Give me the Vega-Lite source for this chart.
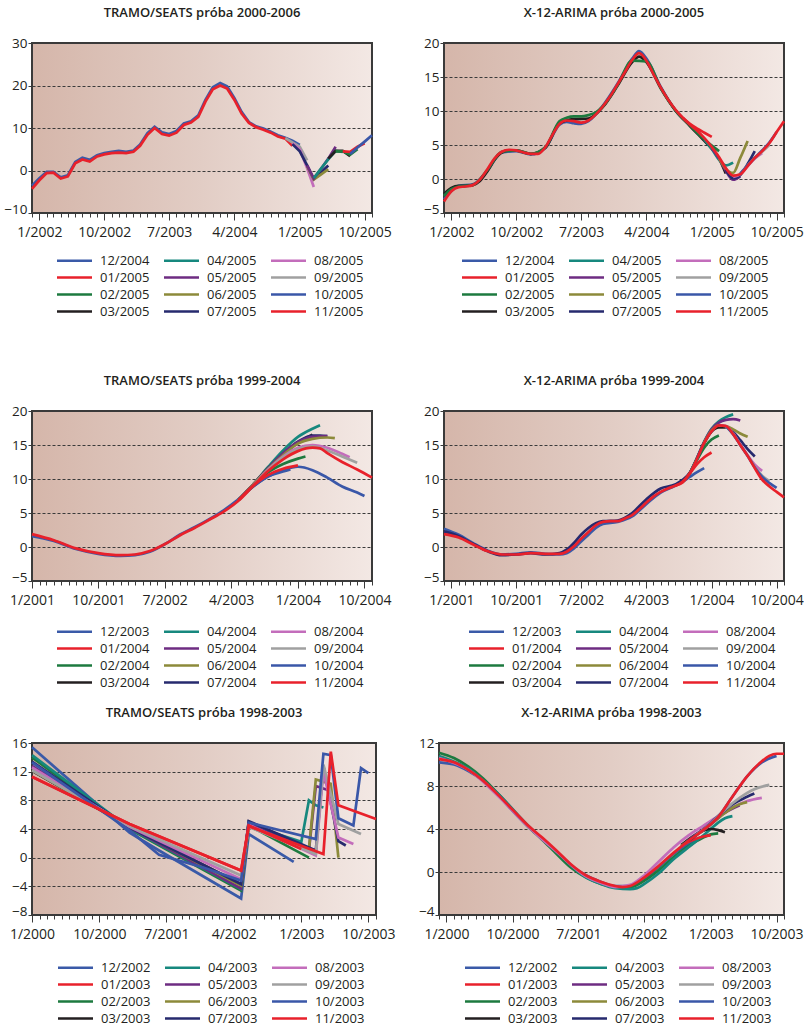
{
"$schema": "https://vega.github.io/schema/vega-lite/v6.json",
"background": "white",
"padding": {"left": 2, "top": 6, "right": 5, "bottom": 5},
"config": {
 "font": "Open Sans",
 "view": {"fill": {"gradient": "linear", "x1": 0, "y1": 0, "x2": 1, "y2": 0, "stops": [{"offset": 0, "color": "#d5b6aa"}, {"offset": 0.5, "color": "#e2cdc5"}, {"offset": 1, "color": "#f3e8e4"}]}, "stroke": "#3a3a3a", "strokeWidth": 2},
 "axis": {"domain": false, "labelFont": "Open Sans", "labelColor": "#231f20", "tickColor": "#3a3a3a", "labelOverlap": false, "labelFlush": false, "labelBound": false},
 "axisX": {"grid": false, "labelFontSize": 14, "labelPadding": 5},
 "axisY": {"grid": true, "gridDash": [3, 2], "gridColor": "#3a3a3a", "gridWidth": 1, "tickSize": 4, "labelFontSize": 13.5, "labelPadding": 1},
 "legend": {"orient": "none", "columns": 3, "symbolType": "M-2.5,0H2.5", "symbolSize": 196, "symbolStrokeWidth": 3, "labelFont": "Open Sans", "labelFontSize": 13, "labelColor": "#231f20", "rowPadding": 1, "columnPadding": 8, "labelOffset": 17, "padding": 0},
 "title": {"font": "Open Sans", "fontSize": 13, "fontWeight": 600, "color": "#231f20", "offset": 16, "anchor": "middle"},
 "line": {"strokeWidth": 2.7}
},
"datasets": {
"p1": [
{"s":"12/2004","t":"2001-12","v":-3.6},{"s":"12/2004","t":"2002-01","v":-1.8},{"s":"12/2004","t":"2002-02","v":-0.3},{"s":"12/2004","t":"2002-03","v":-0.3},{"s":"12/2004","t":"2002-04","v":-1.6},{"s":"12/2004","t":"2002-05","v":-1.1},{"s":"12/2004","t":"2002-06","v":2.0},{"s":"12/2004","t":"2002-07","v":3.0},{"s":"12/2004","t":"2002-08","v":2.5},{"s":"12/2004","t":"2002-09","v":3.6},{"s":"12/2004","t":"2002-10","v":4.1},{"s":"12/2004","t":"2002-11","v":4.4},{"s":"12/2004","t":"2002-12","v":4.6},{"s":"12/2004","t":"2003-01","v":4.4},{"s":"12/2004","t":"2003-02","v":4.7},{"s":"12/2004","t":"2003-03","v":6.1},{"s":"12/2004","t":"2003-04","v":8.8},{"s":"12/2004","t":"2003-05","v":10.3},{"s":"12/2004","t":"2003-06","v":9.0},{"s":"12/2004","t":"2003-07","v":8.6},{"s":"12/2004","t":"2003-08","v":9.3},{"s":"12/2004","t":"2003-09","v":11.1},{"s":"12/2004","t":"2003-10","v":11.6},{"s":"12/2004","t":"2003-11","v":13.0},{"s":"12/2004","t":"2003-12","v":16.6},{"s":"12/2004","t":"2004-01","v":19.6},{"s":"12/2004","t":"2004-02","v":20.6},{"s":"12/2004","t":"2004-03","v":19.8},{"s":"12/2004","t":"2004-04","v":17.0},{"s":"12/2004","t":"2004-05","v":13.8},{"s":"12/2004","t":"2004-06","v":11.4},{"s":"12/2004","t":"2004-07","v":10.4},{"s":"12/2004","t":"2004-08","v":9.9},{"s":"12/2004","t":"2004-09","v":9.1},{"s":"12/2004","t":"2004-10","v":8.3},{"s":"12/2004","t":"2004-11","v":7.7},{"s":"12/2004","t":"2004-12","v":7.0},{"s":"12/2004","t":"2005-01","v":6.0},
{"s":"01/2005","t":"2001-12","v":-4.3},{"s":"01/2005","t":"2002-01","v":-2.3},{"s":"01/2005","t":"2002-02","v":-0.6},{"s":"01/2005","t":"2002-03","v":-0.5},{"s":"01/2005","t":"2002-04","v":-1.9},{"s":"01/2005","t":"2002-05","v":-1.4},{"s":"01/2005","t":"2002-06","v":1.7},{"s":"01/2005","t":"2002-07","v":2.6},{"s":"01/2005","t":"2002-08","v":2.1},{"s":"01/2005","t":"2002-09","v":3.3},{"s":"01/2005","t":"2002-10","v":3.8},{"s":"01/2005","t":"2002-11","v":4.1},{"s":"01/2005","t":"2002-12","v":4.2},{"s":"01/2005","t":"2003-01","v":4.1},{"s":"01/2005","t":"2003-02","v":4.4},{"s":"01/2005","t":"2003-03","v":5.8},{"s":"01/2005","t":"2003-04","v":8.4},{"s":"01/2005","t":"2003-05","v":10.0},{"s":"01/2005","t":"2003-06","v":8.6},{"s":"01/2005","t":"2003-07","v":8.2},{"s":"01/2005","t":"2003-08","v":8.9},{"s":"01/2005","t":"2003-09","v":10.7},{"s":"01/2005","t":"2003-10","v":11.3},{"s":"01/2005","t":"2003-11","v":12.6},{"s":"01/2005","t":"2003-12","v":16.2},{"s":"01/2005","t":"2004-01","v":19.1},{"s":"01/2005","t":"2004-02","v":20.0},{"s":"01/2005","t":"2004-03","v":19.3},{"s":"01/2005","t":"2004-04","v":16.6},{"s":"01/2005","t":"2004-05","v":13.4},{"s":"01/2005","t":"2004-06","v":11.2},{"s":"01/2005","t":"2004-07","v":10.2},{"s":"01/2005","t":"2004-08","v":9.6},{"s":"01/2005","t":"2004-09","v":8.9},{"s":"01/2005","t":"2004-10","v":8.0},{"s":"01/2005","t":"2004-11","v":7.5},{"s":"01/2005","t":"2004-12","v":5.8},
{"s":"09/2005","t":"2004-11","v":7.6},{"s":"09/2005","t":"2004-12","v":6.6},{"s":"09/2005","t":"2005-01","v":5.6},{"s":"09/2005","t":"2005-02","v":2.4},
{"s":"08/2005","t":"2004-12","v":6.4},{"s":"08/2005","t":"2005-01","v":5.0},{"s":"08/2005","t":"2005-02","v":0.5},{"s":"08/2005","t":"2005-03","v":-3.9},
{"s":"07/2005","t":"2004-12","v":6.2},{"s":"07/2005","t":"2005-01","v":4.5},{"s":"07/2005","t":"2005-02","v":1.2},{"s":"07/2005","t":"2005-03","v":-2.0},{"s":"07/2005","t":"2005-04","v":-0.4},{"s":"07/2005","t":"2005-05","v":1.2},
{"s":"06/2005","t":"2005-02","v":1.0},{"s":"06/2005","t":"2005-03","v":-2.1},{"s":"06/2005","t":"2005-04","v":-0.9},{"s":"06/2005","t":"2005-05","v":0.3},
{"s":"05/2005","t":"2005-02","v":1.2},{"s":"05/2005","t":"2005-03","v":-1.9},{"s":"05/2005","t":"2005-04","v":0.4},{"s":"05/2005","t":"2005-05","v":2.8},{"s":"05/2005","t":"2005-06","v":5.6},
{"s":"04/2005","t":"2005-03","v":-1.8},{"s":"04/2005","t":"2005-04","v":0.5},{"s":"04/2005","t":"2005-05","v":2.6},{"s":"04/2005","t":"2005-06","v":4.6},{"s":"04/2005","t":"2005-07","v":4.4},
{"s":"03/2005","t":"2005-05","v":2.8},{"s":"03/2005","t":"2005-06","v":4.6},{"s":"03/2005","t":"2005-07","v":4.6},{"s":"03/2005","t":"2005-08","v":3.4},
{"s":"02/2005","t":"2005-06","v":4.5},{"s":"02/2005","t":"2005-07","v":4.5},{"s":"02/2005","t":"2005-08","v":3.7},{"s":"02/2005","t":"2005-09","v":5.0},
{"s":"11/2005","t":"2005-07","v":4.5},{"s":"11/2005","t":"2005-08","v":4.4},{"s":"11/2005","t":"2005-09","v":5.6},{"s":"11/2005","t":"2005-10","v":6.4},
{"s":"10/2005","t":"2005-08","v":3.9},{"s":"10/2005","t":"2005-09","v":5.4},{"s":"10/2005","t":"2005-10","v":6.8},{"s":"10/2005","t":"2005-11","v":8.3}
],
"p2": [
{"s":"12/2004","t":"2001-12","v":-3.0},{"s":"12/2004","t":"2002-02","v":-1.0},{"s":"12/2004","t":"2002-04","v":-0.8},{"s":"12/2004","t":"2002-06","v":1.2},{"s":"12/2004","t":"2002-08","v":3.9},{"s":"12/2004","t":"2002-10","v":4.1},{"s":"12/2004","t":"2002-12","v":3.6},{"s":"12/2004","t":"2003-02","v":4.6},{"s":"12/2004","t":"2003-04","v":8.0},{"s":"12/2004","t":"2003-05","v":8.4},{"s":"12/2004","t":"2003-06","v":8.2},{"s":"12/2004","t":"2003-07","v":8.1},{"s":"12/2004","t":"2003-08","v":8.5},{"s":"12/2004","t":"2003-10","v":10.8},{"s":"12/2004","t":"2003-12","v":14.0},{"s":"12/2004","t":"2004-02","v":17.7},{"s":"12/2004","t":"2004-03","v":18.8},{"s":"12/2004","t":"2004-04","v":17.7},{"s":"12/2004","t":"2004-06","v":13.5},{"s":"12/2004","t":"2004-08","v":10.1},{"s":"12/2004","t":"2004-10","v":7.9},{"s":"12/2004","t":"2004-12","v":5.8},
{"s":"03/2005","t":"2001-12","v":-2.2},{"s":"03/2005","t":"2002-01","v":-1.3},{"s":"03/2005","t":"2002-02","v":-1.0},{"s":"03/2005","t":"2002-03","v":-1.0},{"s":"03/2005","t":"2002-04","v":-0.9},{"s":"03/2005","t":"2002-05","v":-0.3},{"s":"03/2005","t":"2002-06","v":1.1},{"s":"03/2005","t":"2002-07","v":2.8},{"s":"03/2005","t":"2002-08","v":3.9},{"s":"03/2005","t":"2002-09","v":4.2},{"s":"03/2005","t":"2002-10","v":4.2},{"s":"03/2005","t":"2002-12","v":3.7},{"s":"03/2005","t":"2003-02","v":4.6},{"s":"03/2005","t":"2003-04","v":8.2},{"s":"03/2005","t":"2003-06","v":8.8},{"s":"03/2005","t":"2003-08","v":8.9},{"s":"03/2005","t":"2003-10","v":10.6},{"s":"03/2005","t":"2003-12","v":13.7},{"s":"03/2005","t":"2004-02","v":17.2},{"s":"03/2005","t":"2004-03","v":18.0},{"s":"03/2005","t":"2004-04","v":17.2},{"s":"03/2005","t":"2004-06","v":13.3},{"s":"03/2005","t":"2004-08","v":10.1},{"s":"03/2005","t":"2004-10","v":7.8},{"s":"03/2005","t":"2004-12","v":5.6},{"s":"03/2005","t":"2005-02","v":3.0},{"s":"03/2005","t":"2005-03","v":0.8},
{"s":"02/2005","t":"2001-12","v":-2.5},{"s":"02/2005","t":"2002-01","v":-1.5},{"s":"02/2005","t":"2002-02","v":-1.1},{"s":"02/2005","t":"2002-04","v":-0.9},{"s":"02/2005","t":"2002-06","v":1.3},{"s":"02/2005","t":"2002-08","v":4.0},{"s":"02/2005","t":"2002-10","v":4.2},{"s":"02/2005","t":"2002-12","v":3.7},{"s":"02/2005","t":"2003-02","v":4.7},{"s":"02/2005","t":"2003-04","v":8.5},{"s":"02/2005","t":"2003-05","v":9.0},{"s":"02/2005","t":"2003-06","v":9.2},{"s":"02/2005","t":"2003-07","v":9.2},{"s":"02/2005","t":"2003-08","v":9.4},{"s":"02/2005","t":"2003-09","v":9.8},{"s":"02/2005","t":"2003-10","v":10.7},{"s":"02/2005","t":"2003-12","v":13.8},{"s":"02/2005","t":"2004-02","v":17.4},{"s":"02/2005","t":"2004-04","v":17.3},{"s":"02/2005","t":"2004-06","v":13.3},{"s":"02/2005","t":"2004-08","v":10.1},{"s":"02/2005","t":"2004-10","v":7.9},{"s":"02/2005","t":"2004-12","v":5.8},{"s":"02/2005","t":"2005-01","v":4.9},{"s":"02/2005","t":"2005-02","v":4.1},
{"s":"04/2005","t":"2004-12","v":5.8},{"s":"04/2005","t":"2005-01","v":4.4},{"s":"04/2005","t":"2005-02","v":2.8},{"s":"04/2005","t":"2005-03","v":2.0},{"s":"04/2005","t":"2005-04","v":2.4},
{"s":"05/2005","t":"2005-01","v":4.5},{"s":"05/2005","t":"2005-02","v":3.0},{"s":"05/2005","t":"2005-03","v":1.2},{"s":"05/2005","t":"2005-04","v":-0.1},{"s":"05/2005","t":"2005-05","v":0.4},
{"s":"06/2005","t":"2005-02","v":3.0},{"s":"06/2005","t":"2005-03","v":1.5},{"s":"06/2005","t":"2005-04","v":0.9},{"s":"06/2005","t":"2005-05","v":3.1},{"s":"06/2005","t":"2005-06","v":5.6},
{"s":"07/2005","t":"2005-03","v":1.4},{"s":"07/2005","t":"2005-04","v":0.1},{"s":"07/2005","t":"2005-05","v":0.6},{"s":"07/2005","t":"2005-06","v":2.2},{"s":"07/2005","t":"2005-07","v":4.1},
{"s":"08/2005","t":"2005-04","v":0.3},{"s":"08/2005","t":"2005-05","v":0.7},{"s":"08/2005","t":"2005-06","v":1.9},{"s":"08/2005","t":"2005-07","v":3.0},{"s":"08/2005","t":"2005-08","v":3.8},
{"s":"09/2005","t":"2005-05","v":0.8},{"s":"09/2005","t":"2005-06","v":2.0},{"s":"09/2005","t":"2005-07","v":3.1},{"s":"09/2005","t":"2005-08","v":4.0},{"s":"09/2005","t":"2005-09","v":5.0},
{"s":"10/2005","t":"2005-05","v":0.8},{"s":"10/2005","t":"2005-06","v":2.0},{"s":"10/2005","t":"2005-07","v":3.1},{"s":"10/2005","t":"2005-08","v":4.2},{"s":"10/2005","t":"2005-09","v":5.4},{"s":"10/2005","t":"2005-10","v":6.9},
{"s":"01/2005","t":"2004-09","v":9.0},{"s":"01/2005","t":"2004-10","v":8.1},{"s":"01/2005","t":"2004-11","v":7.4},{"s":"01/2005","t":"2004-12","v":6.8},{"s":"01/2005","t":"2005-01","v":6.2},
{"s":"11/2005","t":"2001-12","v":-3.3},{"s":"11/2005","t":"2002-01","v":-1.8},{"s":"11/2005","t":"2002-02","v":-1.2},{"s":"11/2005","t":"2002-03","v":-1.1},{"s":"11/2005","t":"2002-04","v":-0.9},{"s":"11/2005","t":"2002-05","v":-0.1},{"s":"11/2005","t":"2002-06","v":1.4},{"s":"11/2005","t":"2002-07","v":3.0},{"s":"11/2005","t":"2002-08","v":4.0},{"s":"11/2005","t":"2002-09","v":4.3},{"s":"11/2005","t":"2002-10","v":4.2},{"s":"11/2005","t":"2002-11","v":3.9},{"s":"11/2005","t":"2002-12","v":3.7},{"s":"11/2005","t":"2003-01","v":3.7},{"s":"11/2005","t":"2003-02","v":4.7},{"s":"11/2005","t":"2003-03","v":6.4},{"s":"11/2005","t":"2003-04","v":8.1},{"s":"11/2005","t":"2003-05","v":8.6},{"s":"11/2005","t":"2003-06","v":8.5},{"s":"11/2005","t":"2003-07","v":8.3},{"s":"11/2005","t":"2003-08","v":8.6},{"s":"11/2005","t":"2003-09","v":9.5},{"s":"11/2005","t":"2003-10","v":10.7},{"s":"11/2005","t":"2003-11","v":12.2},{"s":"11/2005","t":"2003-12","v":13.9},{"s":"11/2005","t":"2004-01","v":15.7},{"s":"11/2005","t":"2004-02","v":17.5},{"s":"11/2005","t":"2004-03","v":18.5},{"s":"11/2005","t":"2004-04","v":17.4},{"s":"11/2005","t":"2004-05","v":15.4},{"s":"11/2005","t":"2004-06","v":13.4},{"s":"11/2005","t":"2004-07","v":11.7},{"s":"11/2005","t":"2004-08","v":10.2},{"s":"11/2005","t":"2004-09","v":9.0},{"s":"11/2005","t":"2004-10","v":8.0},{"s":"11/2005","t":"2004-11","v":7.1},{"s":"11/2005","t":"2004-12","v":6.0},{"s":"11/2005","t":"2005-01","v":4.7},{"s":"11/2005","t":"2005-02","v":3.2},{"s":"11/2005","t":"2005-03","v":1.6},{"s":"11/2005","t":"2005-04","v":0.5},{"s":"11/2005","t":"2005-05","v":0.7},{"s":"11/2005","t":"2005-06","v":1.9},{"s":"11/2005","t":"2005-07","v":3.1},{"s":"11/2005","t":"2005-08","v":4.1},{"s":"11/2005","t":"2005-09","v":5.3},{"s":"11/2005","t":"2005-10","v":6.9},{"s":"11/2005","t":"2005-11","v":8.5}
],
"p3": [
{"s":"12/2003","t":"2001-01","v":1.6},{"s":"12/2003","t":"2001-04","v":0.9},{"s":"12/2003","t":"2001-07","v":-0.3},{"s":"12/2003","t":"2001-10","v":-1.0},{"s":"12/2003","t":"2002-01","v":-1.3},{"s":"12/2003","t":"2002-03","v":-1.2},{"s":"12/2003","t":"2002-05","v":-0.7},{"s":"12/2003","t":"2002-07","v":0.4},{"s":"12/2003","t":"2002-09","v":1.8},{"s":"12/2003","t":"2002-11","v":2.9},{"s":"12/2003","t":"2003-01","v":4.1},{"s":"12/2003","t":"2003-03","v":5.4},{"s":"12/2003","t":"2003-05","v":7.0},{"s":"12/2003","t":"2003-07","v":8.9},{"s":"12/2003","t":"2003-09","v":10.4},{"s":"12/2003","t":"2003-11","v":11.1},{"s":"12/2003","t":"2003-12","v":11.4},
{"s":"10/2004","t":"2003-05","v":7.0},{"s":"10/2004","t":"2003-07","v":8.9},{"s":"10/2004","t":"2003-09","v":10.4},{"s":"10/2004","t":"2003-11","v":11.3},{"s":"10/2004","t":"2004-01","v":11.8},{"s":"10/2004","t":"2004-03","v":11.3},{"s":"10/2004","t":"2004-05","v":10.2},{"s":"10/2004","t":"2004-07","v":8.9},{"s":"10/2004","t":"2004-09","v":8.0},{"s":"10/2004","t":"2004-10","v":7.5},
{"s":"04/2004","t":"2003-05","v":6.9},{"s":"04/2004","t":"2003-07","v":9.2},{"s":"04/2004","t":"2003-09","v":11.8},{"s":"04/2004","t":"2003-11","v":14.2},{"s":"04/2004","t":"2004-01","v":16.2},{"s":"04/2004","t":"2004-03","v":17.4},{"s":"04/2004","t":"2004-04","v":17.9},
{"s":"03/2004","t":"2003-05","v":6.9},{"s":"03/2004","t":"2003-07","v":9.2},{"s":"03/2004","t":"2003-09","v":11.6},{"s":"03/2004","t":"2003-11","v":13.6},{"s":"03/2004","t":"2004-01","v":15.3},{"s":"03/2004","t":"2004-03","v":16.5},
{"s":"07/2004","t":"2003-05","v":6.9},{"s":"07/2004","t":"2003-07","v":9.2},{"s":"07/2004","t":"2003-09","v":11.6},{"s":"07/2004","t":"2003-11","v":13.7},{"s":"07/2004","t":"2004-01","v":15.5},{"s":"07/2004","t":"2004-03","v":16.4},{"s":"07/2004","t":"2004-04","v":16.4},{"s":"07/2004","t":"2004-05","v":16.3},
{"s":"05/2004","t":"2003-05","v":6.9},{"s":"05/2004","t":"2003-07","v":9.2},{"s":"05/2004","t":"2003-09","v":11.6},{"s":"05/2004","t":"2003-11","v":13.8},{"s":"05/2004","t":"2004-01","v":15.4},{"s":"05/2004","t":"2004-03","v":16.2},{"s":"05/2004","t":"2004-05","v":16.3},
{"s":"06/2004","t":"2003-05","v":6.9},{"s":"06/2004","t":"2003-07","v":9.2},{"s":"06/2004","t":"2003-09","v":11.5},{"s":"06/2004","t":"2003-11","v":13.5},{"s":"06/2004","t":"2004-01","v":15.2},{"s":"06/2004","t":"2004-03","v":15.9},{"s":"06/2004","t":"2004-05","v":16.1},{"s":"06/2004","t":"2004-06","v":16.0},
{"s":"08/2004","t":"2003-05","v":6.9},{"s":"08/2004","t":"2003-07","v":9.1},{"s":"08/2004","t":"2003-09","v":11.4},{"s":"08/2004","t":"2003-11","v":13.3},{"s":"08/2004","t":"2004-01","v":14.6},{"s":"08/2004","t":"2004-03","v":15.0},{"s":"08/2004","t":"2004-05","v":14.6},{"s":"08/2004","t":"2004-07","v":13.7},{"s":"08/2004","t":"2004-08","v":13.2},
{"s":"09/2004","t":"2003-05","v":6.9},{"s":"09/2004","t":"2003-07","v":9.1},{"s":"09/2004","t":"2003-09","v":11.3},{"s":"09/2004","t":"2003-11","v":13.2},{"s":"09/2004","t":"2004-01","v":14.4},{"s":"09/2004","t":"2004-03","v":14.8},{"s":"09/2004","t":"2004-05","v":14.2},{"s":"09/2004","t":"2004-07","v":13.3},{"s":"09/2004","t":"2004-09","v":12.4},
{"s":"02/2004","t":"2003-05","v":6.9},{"s":"02/2004","t":"2003-07","v":9.0},{"s":"02/2004","t":"2003-09","v":11.0},{"s":"02/2004","t":"2003-11","v":12.2},{"s":"02/2004","t":"2004-01","v":13.0},{"s":"02/2004","t":"2004-02","v":13.3},
{"s":"01/2004","t":"2003-05","v":6.9},{"s":"01/2004","t":"2003-07","v":9.0},{"s":"01/2004","t":"2003-09","v":10.6},{"s":"01/2004","t":"2003-11","v":11.5},{"s":"01/2004","t":"2004-01","v":12.0},
{"s":"11/2004","t":"2001-01","v":1.9},{"s":"11/2004","t":"2001-04","v":1.0},{"s":"11/2004","t":"2001-07","v":-0.2},{"s":"11/2004","t":"2001-10","v":-0.9},{"s":"11/2004","t":"2002-01","v":-1.2},{"s":"11/2004","t":"2002-03","v":-1.1},{"s":"11/2004","t":"2002-05","v":-0.6},{"s":"11/2004","t":"2002-07","v":0.4},{"s":"11/2004","t":"2002-09","v":1.7},{"s":"11/2004","t":"2002-11","v":2.8},{"s":"11/2004","t":"2003-01","v":4.0},{"s":"11/2004","t":"2003-03","v":5.2},{"s":"11/2004","t":"2003-05","v":6.8},{"s":"11/2004","t":"2003-07","v":9.0},{"s":"11/2004","t":"2003-09","v":11.2},{"s":"11/2004","t":"2003-11","v":12.9},{"s":"11/2004","t":"2004-01","v":14.1},{"s":"11/2004","t":"2004-03","v":14.6},{"s":"11/2004","t":"2004-04","v":14.5},{"s":"11/2004","t":"2004-05","v":13.8},{"s":"11/2004","t":"2004-07","v":12.5},{"s":"11/2004","t":"2004-09","v":11.4},{"s":"11/2004","t":"2004-11","v":10.2}
],
"p4": [
{"s":"12/2003","t":"2000-12","v":2.7},{"s":"12/2003","t":"2001-02","v":1.8},{"s":"12/2003","t":"2001-04","v":0.6},{"s":"12/2003","t":"2001-06","v":-0.5},{"s":"12/2003","t":"2001-08","v":-1.1},{"s":"12/2003","t":"2001-10","v":-1.0},{"s":"12/2003","t":"2001-12","v":-0.8},{"s":"12/2003","t":"2002-02","v":-1.0},{"s":"12/2003","t":"2002-04","v":-1.1},{"s":"12/2003","t":"2002-05","v":-0.9},{"s":"12/2003","t":"2002-06","v":-0.2},{"s":"12/2003","t":"2002-07","v":0.8},{"s":"12/2003","t":"2002-08","v":1.8},{"s":"12/2003","t":"2002-09","v":2.8},{"s":"12/2003","t":"2002-10","v":3.4},{"s":"12/2003","t":"2002-12","v":3.7},{"s":"12/2003","t":"2003-02","v":4.5},{"s":"12/2003","t":"2003-04","v":6.3},{"s":"12/2003","t":"2003-06","v":8.0},{"s":"12/2003","t":"2003-08","v":9.0},{"s":"12/2003","t":"2003-09","v":9.6},{"s":"12/2003","t":"2003-10","v":10.3},{"s":"12/2003","t":"2003-11","v":11.0},{"s":"12/2003","t":"2003-12","v":11.6},
{"s":"07/2004","t":"2000-12","v":2.3},{"s":"07/2004","t":"2001-02","v":1.6},{"s":"07/2004","t":"2001-04","v":0.5},{"s":"07/2004","t":"2001-06","v":-0.6},{"s":"07/2004","t":"2001-08","v":-1.2},{"s":"07/2004","t":"2001-10","v":-1.1},{"s":"07/2004","t":"2001-12","v":-0.9},{"s":"07/2004","t":"2002-02","v":-1.1},{"s":"07/2004","t":"2002-04","v":-0.9},{"s":"07/2004","t":"2002-05","v":-0.4},{"s":"07/2004","t":"2002-06","v":0.6},{"s":"07/2004","t":"2002-07","v":1.8},{"s":"07/2004","t":"2002-08","v":2.8},{"s":"07/2004","t":"2002-09","v":3.5},{"s":"07/2004","t":"2002-10","v":3.8},{"s":"07/2004","t":"2002-12","v":3.9},{"s":"07/2004","t":"2003-02","v":5.0},{"s":"07/2004","t":"2003-04","v":7.0},{"s":"07/2004","t":"2003-06","v":8.6},{"s":"07/2004","t":"2003-08","v":9.2},{"s":"07/2004","t":"2003-10","v":10.9},{"s":"07/2004","t":"2003-12","v":15.3},{"s":"07/2004","t":"2004-01","v":17.0},{"s":"07/2004","t":"2004-02","v":17.9},{"s":"07/2004","t":"2004-03","v":17.7},{"s":"07/2004","t":"2004-04","v":16.9},{"s":"07/2004","t":"2004-05","v":15.7},{"s":"07/2004","t":"2004-06","v":14.4},{"s":"07/2004","t":"2004-07","v":13.3},
{"s":"03/2004","t":"2003-10","v":10.8},{"s":"03/2004","t":"2003-11","v":13.0},{"s":"03/2004","t":"2003-12","v":15.3},{"s":"03/2004","t":"2004-01","v":17.0},{"s":"03/2004","t":"2004-02","v":17.6},{"s":"03/2004","t":"2004-03","v":17.6},
{"s":"02/2004","t":"2003-09","v":9.5},{"s":"02/2004","t":"2003-10","v":10.8},{"s":"02/2004","t":"2003-11","v":12.8},{"s":"02/2004","t":"2003-12","v":14.6},{"s":"02/2004","t":"2004-01","v":15.8},{"s":"02/2004","t":"2004-02","v":16.4},
{"s":"04/2004","t":"2003-10","v":10.8},{"s":"04/2004","t":"2003-11","v":13.1},{"s":"04/2004","t":"2003-12","v":15.5},{"s":"04/2004","t":"2004-01","v":17.4},{"s":"04/2004","t":"2004-02","v":18.5},{"s":"04/2004","t":"2004-03","v":19.1},{"s":"04/2004","t":"2004-04","v":19.5},
{"s":"05/2004","t":"2003-11","v":13.0},{"s":"05/2004","t":"2003-12","v":15.4},{"s":"05/2004","t":"2004-01","v":17.3},{"s":"05/2004","t":"2004-02","v":18.3},{"s":"05/2004","t":"2004-03","v":18.7},{"s":"05/2004","t":"2004-04","v":18.8},{"s":"05/2004","t":"2004-05","v":18.6},
{"s":"06/2004","t":"2003-12","v":15.3},{"s":"06/2004","t":"2004-01","v":17.1},{"s":"06/2004","t":"2004-02","v":17.9},{"s":"06/2004","t":"2004-03","v":17.8},{"s":"06/2004","t":"2004-04","v":17.3},{"s":"06/2004","t":"2004-05","v":16.7},{"s":"06/2004","t":"2004-06","v":16.2},
{"s":"08/2004","t":"2004-02","v":17.9},{"s":"08/2004","t":"2004-03","v":17.8},{"s":"08/2004","t":"2004-04","v":16.7},{"s":"08/2004","t":"2004-05","v":15.1},{"s":"08/2004","t":"2004-06","v":13.5},{"s":"08/2004","t":"2004-07","v":12.1},{"s":"08/2004","t":"2004-08","v":11.2},
{"s":"09/2004","t":"2004-03","v":17.8},{"s":"09/2004","t":"2004-04","v":16.6},{"s":"09/2004","t":"2004-05","v":15.0},{"s":"09/2004","t":"2004-06","v":13.4},{"s":"09/2004","t":"2004-07","v":11.8},{"s":"09/2004","t":"2004-08","v":10.5},{"s":"09/2004","t":"2004-09","v":9.7},
{"s":"10/2004","t":"2004-03","v":17.8},{"s":"10/2004","t":"2004-04","v":16.6},{"s":"10/2004","t":"2004-05","v":15.0},{"s":"10/2004","t":"2004-06","v":13.4},{"s":"10/2004","t":"2004-07","v":11.7},{"s":"10/2004","t":"2004-08","v":10.3},{"s":"10/2004","t":"2004-09","v":9.4},{"s":"10/2004","t":"2004-10","v":8.7},
{"s":"01/2004","t":"2003-08","v":9.0},{"s":"01/2004","t":"2003-09","v":9.6},{"s":"01/2004","t":"2003-10","v":10.8},{"s":"01/2004","t":"2003-11","v":12.2},{"s":"01/2004","t":"2003-12","v":13.2},{"s":"01/2004","t":"2004-01","v":13.9},
{"s":"11/2004","t":"2000-12","v":1.9},{"s":"11/2004","t":"2001-02","v":1.4},{"s":"11/2004","t":"2001-04","v":0.4},{"s":"11/2004","t":"2001-06","v":-0.6},{"s":"11/2004","t":"2001-08","v":-1.1},{"s":"11/2004","t":"2001-10","v":-1.1},{"s":"11/2004","t":"2001-12","v":-0.9},{"s":"11/2004","t":"2002-02","v":-1.0},{"s":"11/2004","t":"2002-04","v":-1.0},{"s":"11/2004","t":"2002-05","v":-0.7},{"s":"11/2004","t":"2002-06","v":0.1},{"s":"11/2004","t":"2002-07","v":1.2},{"s":"11/2004","t":"2002-08","v":2.2},{"s":"11/2004","t":"2002-09","v":3.2},{"s":"11/2004","t":"2002-10","v":3.7},{"s":"11/2004","t":"2002-11","v":3.8},{"s":"11/2004","t":"2002-12","v":3.8},{"s":"11/2004","t":"2003-01","v":4.2},{"s":"11/2004","t":"2003-02","v":4.7},{"s":"11/2004","t":"2003-03","v":5.5},{"s":"11/2004","t":"2003-04","v":6.5},{"s":"11/2004","t":"2003-05","v":7.4},{"s":"11/2004","t":"2003-06","v":8.1},{"s":"11/2004","t":"2003-07","v":8.6},{"s":"11/2004","t":"2003-08","v":9.0},{"s":"11/2004","t":"2003-09","v":9.5},{"s":"11/2004","t":"2003-10","v":10.8},{"s":"11/2004","t":"2003-11","v":13.0},{"s":"11/2004","t":"2003-12","v":15.3},{"s":"11/2004","t":"2004-01","v":17.0},{"s":"11/2004","t":"2004-02","v":17.9},{"s":"11/2004","t":"2004-03","v":17.8},{"s":"11/2004","t":"2004-04","v":16.6},{"s":"11/2004","t":"2004-05","v":15.0},{"s":"11/2004","t":"2004-06","v":13.4},{"s":"11/2004","t":"2004-07","v":11.6},{"s":"11/2004","t":"2004-08","v":9.9},{"s":"11/2004","t":"2004-09","v":8.9},{"s":"11/2004","t":"2004-10","v":8.1},{"s":"11/2004","t":"2004-11","v":7.3}
],
"p5": [
{"s":"12/2002","t":"2000-01","v":15.4},{"s":"12/2002","t":"2001-02","v":3.5},{"s":"12/2002","t":"2001-06","v":1.0},{"s":"12/2002","t":"2002-05","v":-5.7},{"s":"12/2002","t":"2002-06","v":3.3},{"s":"12/2002","t":"2002-12","v":-0.6},
{"s":"02/2003","t":"2000-01","v":14.0},{"s":"02/2003","t":"2001-02","v":4.0},{"s":"02/2003","t":"2002-05","v":-4.6},{"s":"02/2003","t":"2002-06","v":4.5},{"s":"02/2003","t":"2003-02","v":0.0},
{"s":"03/2003","t":"2000-01","v":12.1},{"s":"03/2003","t":"2001-02","v":4.3},{"s":"03/2003","t":"2002-05","v":-3.7},{"s":"03/2003","t":"2002-06","v":5.0},{"s":"03/2003","t":"2003-03","v":0.4},
{"s":"04/2003","t":"2000-01","v":14.3},{"s":"04/2003","t":"2001-02","v":4.1},{"s":"04/2003","t":"2002-05","v":-4.4},{"s":"04/2003","t":"2002-06","v":4.6},{"s":"04/2003","t":"2003-01","v":2.2},{"s":"04/2003","t":"2003-02","v":8.0},{"s":"04/2003","t":"2003-03","v":7.3},{"s":"04/2003","t":"2003-04","v":7.0},
{"s":"05/2003","t":"2000-01","v":12.8},{"s":"05/2003","t":"2001-02","v":4.2},{"s":"05/2003","t":"2002-05","v":-4.3},{"s":"05/2003","t":"2002-06","v":4.7},{"s":"05/2003","t":"2003-02","v":1.0},{"s":"05/2003","t":"2003-03","v":10.0},{"s":"05/2003","t":"2003-05","v":9.3},
{"s":"06/2003","t":"2000-01","v":12.2},{"s":"06/2003","t":"2001-02","v":4.3},{"s":"06/2003","t":"2002-05","v":-3.9},{"s":"06/2003","t":"2002-06","v":4.3},{"s":"06/2003","t":"2003-02","v":1.2},{"s":"06/2003","t":"2003-03","v":10.9},{"s":"06/2003","t":"2003-05","v":10.3},{"s":"06/2003","t":"2003-06","v":0.0},
{"s":"07/2003","t":"2000-01","v":13.4},{"s":"07/2003","t":"2001-02","v":4.2},{"s":"07/2003","t":"2002-05","v":-3.7},{"s":"07/2003","t":"2002-06","v":5.1},{"s":"07/2003","t":"2003-03","v":1.0},{"s":"07/2003","t":"2003-04","v":12.8},{"s":"07/2003","t":"2003-06","v":2.3},{"s":"07/2003","t":"2003-07","v":1.7},
{"s":"08/2003","t":"2000-01","v":12.6},{"s":"08/2003","t":"2001-02","v":4.3},{"s":"08/2003","t":"2002-05","v":-3.0},{"s":"08/2003","t":"2002-06","v":4.6},{"s":"08/2003","t":"2003-03","v":0.3},{"s":"08/2003","t":"2003-04","v":12.0},{"s":"08/2003","t":"2003-06","v":2.8},{"s":"08/2003","t":"2003-08","v":1.9},
{"s":"09/2003","t":"2000-01","v":12.2},{"s":"09/2003","t":"2001-02","v":4.4},{"s":"09/2003","t":"2002-05","v":-2.5},{"s":"09/2003","t":"2002-06","v":4.3},{"s":"09/2003","t":"2003-03","v":0.5},{"s":"09/2003","t":"2003-04","v":13.0},{"s":"09/2003","t":"2003-06","v":4.7},{"s":"09/2003","t":"2003-09","v":3.3},
{"s":"10/2003","t":"2000-01","v":13.3},{"s":"10/2003","t":"2001-02","v":3.8},{"s":"10/2003","t":"2001-06","v":0.4},{"s":"10/2003","t":"2001-12","v":-1.4},{"s":"10/2003","t":"2002-05","v":-3.2},{"s":"10/2003","t":"2002-06","v":4.9},{"s":"10/2003","t":"2003-03","v":2.6},{"s":"10/2003","t":"2003-04","v":14.5},{"s":"10/2003","t":"2003-05","v":14.3},{"s":"10/2003","t":"2003-06","v":5.5},{"s":"10/2003","t":"2003-08","v":4.5},{"s":"10/2003","t":"2003-09","v":12.5},{"s":"10/2003","t":"2003-10","v":11.8},
{"s":"01/2003","t":"2000-01","v":11.3},{"s":"01/2003","t":"2001-02","v":4.7},{"s":"01/2003","t":"2002-05","v":-1.8},{"s":"01/2003","t":"2002-06","v":4.5},{"s":"01/2003","t":"2003-01","v":1.2},
{"s":"11/2003","t":"2000-01","v":11.3},{"s":"11/2003","t":"2001-02","v":4.7},{"s":"11/2003","t":"2002-05","v":-1.8},{"s":"11/2003","t":"2002-06","v":4.4},{"s":"11/2003","t":"2003-04","v":0.5},{"s":"11/2003","t":"2003-05","v":14.8},{"s":"11/2003","t":"2003-06","v":7.3},{"s":"11/2003","t":"2003-11","v":5.4}
],
"p6": [
{"s":"12/2002","t":"1999-12","v":10.2},{"s":"12/2002","t":"2000-02","v":10.0},{"s":"12/2002","t":"2000-04","v":9.4},{"s":"12/2002","t":"2000-06","v":8.5},{"s":"12/2002","t":"2000-08","v":7.2},{"s":"12/2002","t":"2000-10","v":5.7},{"s":"12/2002","t":"2000-12","v":4.3},{"s":"12/2002","t":"2001-02","v":3.1},{"s":"12/2002","t":"2001-04","v":1.9},{"s":"12/2002","t":"2001-06","v":0.6},{"s":"12/2002","t":"2001-08","v":-0.3},{"s":"12/2002","t":"2001-10","v":-0.9},{"s":"12/2002","t":"2001-12","v":-1.3},{"s":"12/2002","t":"2002-02","v":-1.3},{"s":"12/2002","t":"2002-04","v":-0.6},{"s":"12/2002","t":"2002-06","v":0.5},{"s":"12/2002","t":"2002-08","v":1.7},{"s":"12/2002","t":"2002-10","v":2.6},{"s":"12/2002","t":"2002-11","v":3.0},{"s":"12/2002","t":"2002-12","v":3.3},
{"s":"02/2003","t":"1999-12","v":11.1},{"s":"02/2003","t":"2000-02","v":10.6},{"s":"02/2003","t":"2000-04","v":9.8},{"s":"02/2003","t":"2000-06","v":8.7},{"s":"02/2003","t":"2000-08","v":7.3},{"s":"02/2003","t":"2000-10","v":5.8},{"s":"02/2003","t":"2000-12","v":4.3},{"s":"02/2003","t":"2001-02","v":3.0},{"s":"02/2003","t":"2001-04","v":1.7},{"s":"02/2003","t":"2001-06","v":0.4},{"s":"02/2003","t":"2001-08","v":-0.5},{"s":"02/2003","t":"2001-10","v":-1.1},{"s":"02/2003","t":"2001-12","v":-1.4},{"s":"02/2003","t":"2002-02","v":-1.4},{"s":"02/2003","t":"2002-04","v":-0.8},{"s":"02/2003","t":"2002-06","v":0.2},{"s":"02/2003","t":"2002-08","v":1.4},{"s":"02/2003","t":"2002-10","v":2.4},{"s":"02/2003","t":"2002-12","v":3.2},{"s":"02/2003","t":"2003-01","v":3.5},{"s":"02/2003","t":"2003-02","v":3.6},
{"s":"04/2003","t":"1999-12","v":10.8},{"s":"04/2003","t":"2000-04","v":9.6},{"s":"04/2003","t":"2000-08","v":7.3},{"s":"04/2003","t":"2000-12","v":4.4},{"s":"04/2003","t":"2001-04","v":1.9},{"s":"04/2003","t":"2001-08","v":-0.5},{"s":"04/2003","t":"2001-10","v":-1.1},{"s":"04/2003","t":"2001-12","v":-1.5},{"s":"04/2003","t":"2002-02","v":-1.6},{"s":"04/2003","t":"2002-03","v":-1.5},{"s":"04/2003","t":"2002-04","v":-1.1},{"s":"04/2003","t":"2002-06","v":-0.1},{"s":"04/2003","t":"2002-08","v":1.2},{"s":"04/2003","t":"2002-10","v":2.3},{"s":"04/2003","t":"2002-12","v":3.4},{"s":"04/2003","t":"2003-01","v":4.0},{"s":"04/2003","t":"2003-02","v":4.6},{"s":"04/2003","t":"2003-03","v":5.0},{"s":"04/2003","t":"2003-04","v":5.2},
{"s":"08/2003","t":"1999-12","v":10.6},{"s":"08/2003","t":"2000-04","v":9.5},{"s":"08/2003","t":"2000-08","v":7.1},{"s":"08/2003","t":"2000-12","v":4.3},{"s":"08/2003","t":"2001-04","v":1.9},{"s":"08/2003","t":"2001-08","v":-0.4},{"s":"08/2003","t":"2001-10","v":-1.0},{"s":"08/2003","t":"2001-12","v":-1.4},{"s":"08/2003","t":"2002-02","v":-1.2},{"s":"08/2003","t":"2002-04","v":-0.3},{"s":"08/2003","t":"2002-06","v":1.0},{"s":"08/2003","t":"2002-08","v":2.3},{"s":"08/2003","t":"2002-10","v":3.4},{"s":"08/2003","t":"2002-12","v":4.3},{"s":"08/2003","t":"2003-02","v":5.2},{"s":"08/2003","t":"2003-04","v":6.0},{"s":"08/2003","t":"2003-06","v":6.6},{"s":"08/2003","t":"2003-08","v":6.9},
{"s":"01/2003","t":"2002-09","v":2.4},{"s":"01/2003","t":"2002-10","v":2.8},{"s":"01/2003","t":"2002-11","v":3.1},{"s":"01/2003","t":"2002-12","v":3.3},{"s":"01/2003","t":"2003-01","v":3.4},
{"s":"03/2003","t":"2002-09","v":2.5},{"s":"03/2003","t":"2002-11","v":3.5},{"s":"03/2003","t":"2003-01","v":4.0},{"s":"03/2003","t":"2003-02","v":3.9},{"s":"03/2003","t":"2003-03","v":3.7},
{"s":"05/2003","t":"2002-09","v":2.4},{"s":"05/2003","t":"2002-11","v":3.5},{"s":"05/2003","t":"2003-01","v":4.5},{"s":"05/2003","t":"2003-03","v":5.5},{"s":"05/2003","t":"2003-05","v":6.2},
{"s":"06/2003","t":"2002-09","v":2.4},{"s":"06/2003","t":"2002-11","v":3.4},{"s":"06/2003","t":"2003-01","v":4.4},{"s":"06/2003","t":"2003-03","v":5.5},{"s":"06/2003","t":"2003-05","v":6.3},{"s":"06/2003","t":"2003-06","v":6.5},
{"s":"07/2003","t":"2002-10","v":2.9},{"s":"07/2003","t":"2002-12","v":3.9},{"s":"07/2003","t":"2003-02","v":5.2},{"s":"07/2003","t":"2003-04","v":6.3},{"s":"07/2003","t":"2003-06","v":7.0},{"s":"07/2003","t":"2003-07","v":7.3},
{"s":"09/2003","t":"2002-11","v":3.4},{"s":"09/2003","t":"2003-01","v":4.5},{"s":"09/2003","t":"2003-03","v":5.8},{"s":"09/2003","t":"2003-05","v":6.9},{"s":"09/2003","t":"2003-07","v":7.7},{"s":"09/2003","t":"2003-09","v":8.1},
{"s":"10/2003","t":"2002-12","v":3.9},{"s":"10/2003","t":"2003-02","v":5.1},{"s":"10/2003","t":"2003-04","v":7.0},{"s":"10/2003","t":"2003-06","v":8.9},{"s":"10/2003","t":"2003-08","v":10.2},{"s":"10/2003","t":"2003-10","v":10.8},
{"s":"11/2003","t":"1999-12","v":10.5},{"s":"11/2003","t":"2000-02","v":10.2},{"s":"11/2003","t":"2000-04","v":9.5},{"s":"11/2003","t":"2000-06","v":8.5},{"s":"11/2003","t":"2000-08","v":7.2},{"s":"11/2003","t":"2000-10","v":5.8},{"s":"11/2003","t":"2000-12","v":4.4},{"s":"11/2003","t":"2001-02","v":3.2},{"s":"11/2003","t":"2001-04","v":2.0},{"s":"11/2003","t":"2001-06","v":0.7},{"s":"11/2003","t":"2001-08","v":-0.3},{"s":"11/2003","t":"2001-10","v":-0.9},{"s":"11/2003","t":"2001-12","v":-1.3},{"s":"11/2003","t":"2002-01","v":-1.4},{"s":"11/2003","t":"2002-02","v":-1.3},{"s":"11/2003","t":"2002-04","v":-0.5},{"s":"11/2003","t":"2002-06","v":0.6},{"s":"11/2003","t":"2002-08","v":1.8},{"s":"11/2003","t":"2002-10","v":2.9},{"s":"11/2003","t":"2002-12","v":3.9},{"s":"11/2003","t":"2003-02","v":5.1},{"s":"11/2003","t":"2003-04","v":7.0},{"s":"11/2003","t":"2003-06","v":8.9},{"s":"11/2003","t":"2003-08","v":10.3},{"s":"11/2003","t":"2003-09","v":10.8},{"s":"11/2003","t":"2003-10","v":11.0},{"s":"11/2003","t":"2003-11","v":11.0}
]
},
"spacing": 368,
"bounds": "flush",
"resolve": {"scale": {"color": "independent"}, "legend": {"color": "independent"}},
"vconcat": [
 {"hconcat": [
  {"title": "TRAMO/SEATS próba 2000-2006", "width": 340, "height": 170, "data": {"name": "p1"},
   "mark": {"type": "line", "interpolate": "linear"},
   "encoding": {
    "x": {"field": "t", "type": "temporal", "title": null, "scale": {"type": "utc", "domain": [{"year": 2001, "month": 12, "date": 1, "utc": true}, {"year": 2005, "month": 11, "date": 1, "utc": true}]},
      "axis": {"tickCount": {"interval": "month", "step": 1}, "format": "%-m/%Y", "labelExpr": "(utcyear(datum.value)*12+utcmonth(datum.value))%9==3 ? datum.label : ''", "tickSize": {"condition": {"test": "(utcyear(datum.value)*12+utcmonth(datum.value))%9==3", "value": 7}, "value": 4}}},
    "y": {"field": "v", "type": "quantitative", "title": null, "scale": {"domain": [-10, 30], "nice": false, "zero": false}, "axis": {"values": [-10, 0, 10, 20, 30], "labelOffset": {"condition": {"test": "datum.index == 0", "value": -4}, "value": 0}}},
    "color": {"field": "s", "type": "nominal", "scale": {"domain": ["12/2004","01/2005","02/2005","03/2005","04/2005","05/2005","06/2005","07/2005","08/2005","09/2005","10/2005","11/2005"], "range": ["#3a5aa8","#e8212b","#1d7a3f","#231f20","#16887e","#6e2c82","#8c8a3a","#262a6e","#c36dbb","#a0a0a0","#3a57a8","#e8212b"]}, "legend": {"title": null, "legendX": 34, "legendY": 209}}
   }},
  {"title": "X-12-ARIMA próba 2000-2005", "width": 340, "height": 170, "data": {"name": "p2"},
   "mark": {"type": "line", "interpolate": "monotone"},
   "encoding": {
    "x": {"field": "t", "type": "temporal", "title": null, "scale": {"type": "utc", "domain": [{"year": 2001, "month": 12, "date": 1, "utc": true}, {"year": 2005, "month": 11, "date": 1, "utc": true}]},
      "axis": {"tickCount": {"interval": "month", "step": 1}, "format": "%-m/%Y", "labelExpr": "(utcyear(datum.value)*12+utcmonth(datum.value))%9==3 ? datum.label : ''", "tickSize": {"condition": {"test": "(utcyear(datum.value)*12+utcmonth(datum.value))%9==3", "value": 7}, "value": 4}}},
    "y": {"field": "v", "type": "quantitative", "title": null, "scale": {"domain": [-5, 20], "nice": false, "zero": false}, "axis": {"values": [-5, 0, 5, 10, 15, 20], "labelOffset": {"condition": {"test": "datum.index == 0", "value": -4}, "value": 0}}},
    "color": {"field": "s", "type": "nominal", "scale": {"domain": ["12/2004","01/2005","02/2005","03/2005","04/2005","05/2005","06/2005","07/2005","08/2005","09/2005","10/2005","11/2005"], "range": ["#3a5aa8","#e8212b","#1d7a3f","#231f20","#16887e","#6e2c82","#8c8a3a","#262a6e","#c36dbb","#a0a0a0","#3a57a8","#e8212b"]}, "legend": {"title": null, "legendX": 27, "legendY": 209}}
   }}
 ], "spacing": 72, "bounds": "flush", "resolve": {"scale": {"color": "independent"}, "legend": {"color": "independent"}}},
 {"vconcat": [
  {"hconcat": [
   {"title": "TRAMO/SEATS próba 1999-2004", "width": 340, "height": 170, "data": {"name": "p3"},
    "mark": {"type": "line", "interpolate": "monotone"},
    "encoding": {
     "x": {"field": "t", "type": "temporal", "title": null, "scale": {"type": "utc", "domain": [{"year": 2001, "month": 1, "date": 1, "utc": true}, {"year": 2004, "month": 11, "date": 1, "utc": true}]},
       "axis": {"tickCount": {"interval": "month", "step": 1}, "format": "%-m/%Y", "labelExpr": "(utcyear(datum.value)*12+utcmonth(datum.value))%9==0 ? datum.label : ''", "tickSize": {"condition": {"test": "(utcyear(datum.value)*12+utcmonth(datum.value))%9==0", "value": 7}, "value": 4}}},
     "y": {"field": "v", "type": "quantitative", "title": null, "scale": {"domain": [-5, 20], "nice": false, "zero": false}, "axis": {"values": [-5, 0, 5, 10, 15, 20], "labelOffset": {"condition": {"test": "datum.index == 0", "value": -4}, "value": 0}}},
     "color": {"field": "s", "type": "nominal", "scale": {"domain": ["12/2003","01/2004","02/2004","03/2004","04/2004","05/2004","06/2004","07/2004","08/2004","09/2004","10/2004","11/2004"], "range": ["#3a5aa8","#e8212b","#1d7a3f","#231f20","#16887e","#6e2c82","#8c8a3a","#262a6e","#c36dbb","#a0a0a0","#3a57a8","#e8212b"]}, "legend": {"title": null, "legendX": 34, "legendY": 212}}
    }},
   {"title": "X-12-ARIMA próba 1999-2004", "width": 340, "height": 170, "data": {"name": "p4"},
    "mark": {"type": "line", "interpolate": "monotone"},
    "encoding": {
     "x": {"field": "t", "type": "temporal", "title": null, "scale": {"type": "utc", "domain": [{"year": 2000, "month": 12, "date": 1, "utc": true}, {"year": 2004, "month": 11, "date": 1, "utc": true}]},
       "axis": {"tickCount": {"interval": "month", "step": 1}, "format": "%-m/%Y", "labelExpr": "(utcyear(datum.value)*12+utcmonth(datum.value))%9==0 ? datum.label : ''", "tickSize": {"condition": {"test": "(utcyear(datum.value)*12+utcmonth(datum.value))%9==0", "value": 7}, "value": 4}}},
     "y": {"field": "v", "type": "quantitative", "title": null, "scale": {"domain": [-5, 20], "nice": false, "zero": false}, "axis": {"values": [-5, 0, 5, 10, 15, 20], "labelOffset": {"condition": {"test": "datum.index == 0", "value": -4}, "value": 0}}},
     "color": {"field": "s", "type": "nominal", "scale": {"domain": ["12/2003","01/2004","02/2004","03/2004","04/2004","05/2004","06/2004","07/2004","08/2004","09/2004","10/2004","11/2004"], "range": ["#3a5aa8","#e8212b","#1d7a3f","#231f20","#16887e","#6e2c82","#8c8a3a","#262a6e","#c36dbb","#a0a0a0","#3a57a8","#e8212b"]}, "legend": {"title": null, "legendX": 34, "legendY": 212}}
    }}
  ], "spacing": 72, "bounds": "flush", "resolve": {"scale": {"color": "independent"}, "legend": {"color": "independent"}}},
  {"hconcat": [
   {"title": "TRAMO/SEATS próba 1998-2003", "width": 344, "height": 172, "data": {"name": "p5"},
    "mark": {"type": "line", "interpolate": "linear"},
    "encoding": {
     "x": {"field": "t", "type": "temporal", "title": null, "scale": {"type": "utc", "domain": [{"year": 2000, "month": 1, "date": 1, "utc": true}, {"year": 2003, "month": 11, "date": 1, "utc": true}]},
       "axis": {"tickCount": {"interval": "month", "step": 1}, "format": "%-m/%Y", "labelExpr": "(utcyear(datum.value)*12+utcmonth(datum.value))%9==6 ? datum.label : ''", "tickSize": {"condition": {"test": "(utcyear(datum.value)*12+utcmonth(datum.value))%9==6", "value": 7}, "value": 4}}},
     "y": {"field": "v", "type": "quantitative", "title": null, "scale": {"domain": [-8, 16], "nice": false, "zero": false}, "axis": {"values": [-8, -4, 0, 4, 8, 12, 16], "labelOffset": {"condition": {"test": "datum.index == 0", "value": -4}, "value": 0}}},
     "color": {"field": "s", "type": "nominal", "scale": {"domain": ["12/2002","01/2003","02/2003","03/2003","04/2003","05/2003","06/2003","07/2003","08/2003","09/2003","10/2003","11/2003"], "range": ["#3a5aa8","#e8212b","#1d7a3f","#231f20","#16887e","#6e2c82","#8c8a3a","#262a6e","#c36dbb","#a0a0a0","#3a57a8","#e8212b"]}, "legend": {"title": null, "legendX": 35, "legendY": 216}}
    }},
   {"title": "X-12-ARIMA próba 1998-2003", "width": 345, "height": 172, "data": {"name": "p6"},
    "mark": {"type": "line", "interpolate": "monotone"},
    "encoding": {
     "x": {"field": "t", "type": "temporal", "title": null, "scale": {"type": "utc", "domain": [{"year": 1999, "month": 12, "date": 1, "utc": true}, {"year": 2003, "month": 11, "date": 1, "utc": true}]},
       "axis": {"tickCount": {"interval": "month", "step": 1}, "format": "%-m/%Y", "labelExpr": "(utcyear(datum.value)*12+utcmonth(datum.value))%9==6 ? datum.label : ''", "tickSize": {"condition": {"test": "(utcyear(datum.value)*12+utcmonth(datum.value))%9==6", "value": 7}, "value": 4}}},
     "y": {"field": "v", "type": "quantitative", "title": null, "scale": {"domain": [-4, 12], "nice": false, "zero": false}, "axis": {"values": [-4, 0, 4, 8, 12], "labelOffset": {"condition": {"test": "datum.index == 0", "value": -4}, "value": 0}}},
     "color": {"field": "s", "type": "nominal", "scale": {"domain": ["12/2002","01/2003","02/2003","03/2003","04/2003","05/2003","06/2003","07/2003","08/2003","09/2003","10/2003","11/2003"], "range": ["#3a5aa8","#e8212b","#1d7a3f","#231f20","#16887e","#6e2c82","#8c8a3a","#262a6e","#c36dbb","#a0a0a0","#3a57a8","#e8212b"]}, "legend": {"title": null, "legendX": 35, "legendY": 216}}
    }}
  ], "spacing": 63, "bounds": "flush", "resolve": {"scale": {"color": "independent"}, "legend": {"color": "independent"}}}
 ], "spacing": 332, "bounds": "flush", "resolve": {"scale": {"color": "independent"}, "legend": {"color": "independent"}}}
]
}
